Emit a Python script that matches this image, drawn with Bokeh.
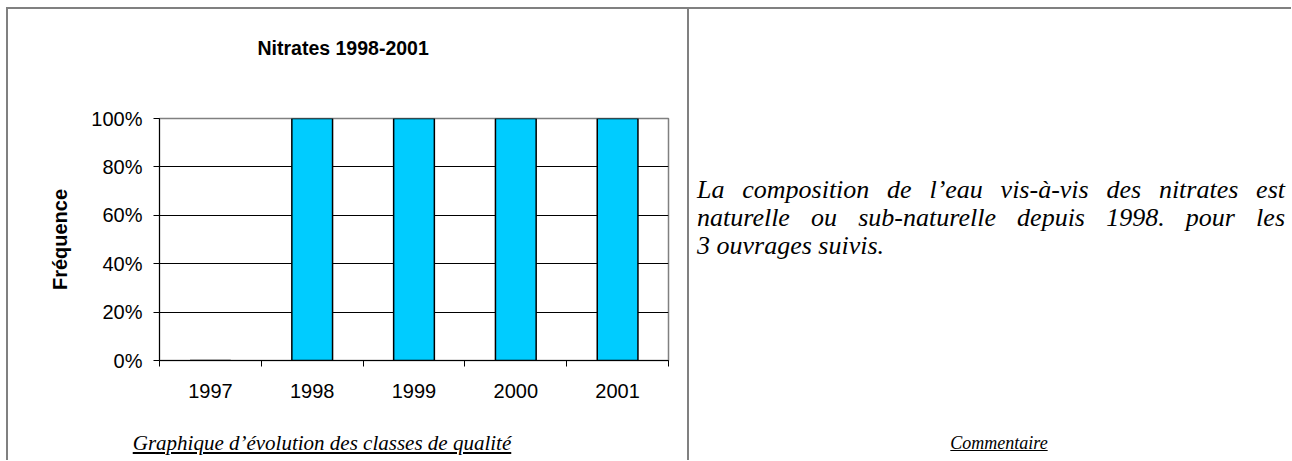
from bokeh.plotting import figure
from bokeh.models import FixedTicker, NumeralTickFormatter, Div, Range1d, Title
from bokeh.layouts import row, column
from bokeh.embed import file_html
from bokeh.resources import INLINE

# ---- data ----
years = ["1997", "1998", "1999", "2000", "2001"]
frequence = [0.0, 1.0, 1.0, 1.0, 1.0]
y_ticks = [0.0, 0.2, 0.4, 0.6, 0.8, 1.0]
title_text = "Nitrates 1998-2001"
y_label = "Fréquence"
caption_left = "Graphique d’évolution des classes de qualité"
caption_right = "Commentaire"
comment_lines = [
    "La composition de l’eau vis-à-vis des nitrates est",
    "naturelle ou sub-naturelle depuis 1998. pour les",
    "3 ouvrages suivis.",
]

# ---- layout constants (pixels) ----
ORIGIN_X, ORIGIN_Y = 6, 7          # table top-left corner on the page
BORDER = 2
LEFT_W = 679
RIGHT_W = 604
TOTAL_H = 453
FIG_H = 400
CAP_H = TOTAL_H - BORDER - FIG_H
FL, FT, FW, FH = 151, 109, 509, 242
FB = FIG_H - FT - FH
FR = LEFT_W - FL - FW
GRAY = "#808080"
SANS = "Liberation Sans"
SERIF = "'Liberation Serif', 'Times New Roman', serif"

x_idx = list(range(len(years)))

p = figure(frame_width=FW, frame_height=FH,
           min_border_left=FL, min_border_top=FT, min_border_right=FR, min_border_bottom=FB,
           x_range=Range1d(-0.5, len(years) - 0.5), y_range=Range1d(0, 1),
           output_backend="svg", toolbar_location=None)

p.title = None
# blank spacer between frame and title, then the title itself
p.add_layout(Title(text=" ", text_font_size="10px", standoff=42), "above")
p.add_layout(Title(text=title_text, align="left", offset=98, standoff=10,
                   text_font=SANS, text_font_style="bold", text_font_size="19.5px",
                   text_color="black"), "above")

p.vbar(x=x_idx, top=frequence, bottom=0, width=0.4,
       fill_color="#00CCFF", line_color="black", line_width=1.5)

# x axis: labels at category centres, tick marks at category borders
p.xaxis.ticker = FixedTicker(ticks=x_idx, minor_ticks=[i - 0.5 for i in range(len(years) + 1)])
p.xaxis.major_label_overrides = {i: y for i, y in zip(x_idx, years)}
p.xaxis.major_tick_out = 0
p.xaxis.major_tick_in = 0
p.xaxis.minor_tick_out = 6
p.xaxis.minor_tick_in = 0
p.xaxis.minor_tick_line_color = "black"
p.xaxis.major_label_standoff = 17

p.yaxis.ticker = FixedTicker(ticks=y_ticks)
p.yaxis.formatter = NumeralTickFormatter(format="0%")
p.yaxis.major_tick_out = 6
p.yaxis.major_tick_in = 0
p.yaxis.major_label_standoff = 11
p.yaxis.axis_label = y_label
p.yaxis.axis_label_text_font = SANS
p.yaxis.axis_label_text_font_style = "bold"
p.yaxis.axis_label_text_font_size = "20px"
p.yaxis.axis_label_text_color = "black"
p.yaxis.axis_label_standoff = 17

for ax in (p.xaxis, p.yaxis):
    ax.axis_line_color = "black"
    ax.major_tick_line_color = "black"
    ax.major_label_text_font = SANS
    ax.major_label_text_font_size = "20px"
    ax.major_label_text_color = "black"

p.xgrid.visible = False
p.ygrid.ticker = FixedTicker(ticks=y_ticks[1:-1])
p.ygrid.grid_line_color = "black"
p.ygrid.grid_line_width = 1

p.outline_line_color = GRAY
p.outline_line_width = 1.5
p.background_fill_color = "white"
p.border_fill_color = "white"

# ---- table borders and captions (HTML) ----
left_border = Div(text="", width=BORDER, height=TOTAL_H, margin=0,
                  styles={"background-color": GRAY})
top_border = Div(text="", width=LEFT_W, height=BORDER, margin=0,
                 styles={"background-color": GRAY})

cap_html = (
    f'<div style="position:relative;width:{LEFT_W}px;height:{CAP_H}px;">'
    f'<div style="position:absolute;left:0px;top:22px;width:628px;text-align:center;'
    f'font-family:{SERIF};font-style:italic;font-size:21px;line-height:24px;color:black;">'
    f'<u>{caption_left}</u></div></div>'
)
cap_div = Div(text=cap_html, width=LEFT_W, height=CAP_H, margin=0)

line_style = "text-align:justify;text-align-last:justify;white-space:nowrap;"
lines_html = "".join(
    f'<div style="{line_style if i < len(comment_lines) - 1 else "text-align:left;white-space:nowrap;"}">{t}</div>'
    for i, t in enumerate(comment_lines))
html = (
    f'<div style="position:relative;width:{RIGHT_W}px;height:{TOTAL_H}px;box-sizing:border-box;'
    f'border-top:2px solid {GRAY};border-left:2px solid {GRAY};">'
    f'<div style="position:absolute;left:8px;top:167px;width:588px;font-family:{SERIF};'
    f'font-style:italic;font-size:26px;line-height:28px;color:black;">{lines_html}</div>'
    f'<div style="position:absolute;left:0px;top:422px;width:620px;text-align:center;'
    f'font-family:{SERIF};font-style:italic;font-size:18px;line-height:24px;color:black;">'
    f'<u>{caption_right}</u></div>'
    f'</div>'
)
comment_div = Div(text=html, width=RIGHT_W, height=TOTAL_H, margin=0)

layout = row(left_border, column(top_border, p, cap_div), comment_div,
             margin=(ORIGIN_Y, 0, 0, ORIGIN_X))
open("out.html", "w").write(file_html(layout, INLINE))
